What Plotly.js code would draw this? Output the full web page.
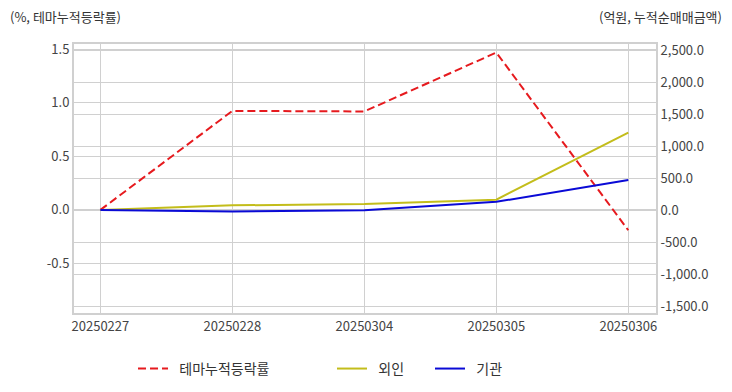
<!DOCTYPE html>
<html>
<head>
<meta charset="utf-8">
<script src="https://cdn.plot.ly/plotly-3.0.1.min.js"></script>
<style>html,body{margin:0;padding:0;background:#fff;}#chart{width:732px;height:392px;}</style>
</head>
<body>
<div id="chart"></div>
<script>
var dates = ['20250227', '20250228', '20250304', '20250305', '20250306'];
var themeReturn = [0, 0.925, 0.92, 1.47, -0.19];
var foreign = [0, 73, 94, 162, 1208];
var institution = [0, -22, -5, 128, 469];

var leftTicks = [-0.5, 0, 0.5, 1.0, 1.5];
var leftTickText = ['-0.5', '0.0', '0.5', '1.0', '1.5'];
var rightTicks = [-1500, -1000, -500, 0, 500, 1000, 1500, 2000, 2500];
var rightTickText = ['-1,500.0', '-1,000.0', '-500.0', '0.0', '500.0', '1,000.0', '1,500.0', '2,000.0', '2,500.0'];
var seriesNames = ['테마누적등락률', '외인', '기관'];

var font = "'Noto Sans CJK KR', 'Noto Sans', sans-serif";
var pad = '\u00a0\u00a0';
var traces = [
  {x: dates, y: themeReturn, name: pad + seriesNames[0], type: 'scatter', mode: 'lines',
   line: {color: '#e61a1e', width: 2, dash: '8px,4px'}, yaxis: 'y', legend: 'legend'},
  {x: dates, y: foreign, name: pad + seriesNames[1], type: 'scatter', mode: 'lines',
   line: {color: '#c3bd1b', width: 2}, yaxis: 'y2', legend: 'legend2'},
  {x: dates, y: institution, name: pad + seriesNames[2], type: 'scatter', mode: 'lines',
   line: {color: '#0a0ad6', width: 2}, yaxis: 'y2', legend: 'legend3'}
];
function leg(x) {
  return {orientation: 'h', x: x, xanchor: 'left', y: -0.208, yanchor: 'middle',
          bgcolor: 'rgba(0,0,0,0)', font: {family: font, size: 14, color: '#333'}};
}
var layout = {
  width: 732, height: 392,
  margin: {l: 74, r: 76, t: 44, b: 79, autoexpand: false},
  paper_bgcolor: '#fff', plot_bgcolor: '#fff',
  font: {family: font, size: 13, color: '#444'},
  showlegend: true,
  legend: leg(0.1014),
  legend2: leg(0.4433),
  legend3: leg(0.6117),
  xaxis: {type: 'category', range: [-0.2, 4.21], showgrid: true, gridcolor: '#d0d0d0',
          showline: true, mirror: true, linecolor: '#d0d0d0', linewidth: 2,
          ticks: '', tickfont: {size: 13, color: '#444'}, zeroline: false, automargin: false},
  yaxis: {range: [-0.963, 1.55], tickvals: leftTicks, ticktext: leftTickText,
          showgrid: true, gridcolor: '#d0d0d0', zeroline: false,
          showline: true, linecolor: '#d0d0d0', linewidth: 2,
          tickfont: {size: 13, color: '#444'}, ticks: '', automargin: false},
  yaxis2: {overlaying: 'y', side: 'right', range: [-1609, 2594], tickvals: rightTicks, ticktext: rightTickText,
           showgrid: true, gridcolor: '#d0d0d0', zeroline: false,
           showline: true, linecolor: '#d0d0d0', linewidth: 2,
           tickfont: {size: 13, color: '#444'}, ticks: '', automargin: false},
  annotations: [
    {text: '(%, 테마누적등락률)', xref: 'paper', yref: 'paper', x: 0, y: 1, xshift: -66, yshift: 28,
     xanchor: 'left', yanchor: 'middle', showarrow: false, font: {family: font, size: 13, color: '#333'}},
    {text: '(억원, 누적순매매금액)', xref: 'paper', yref: 'paper', x: 1, y: 1, xshift: 68, yshift: 28,
     xanchor: 'right', yanchor: 'middle', showarrow: false, font: {family: font, size: 13, color: '#333'}}
  ]
};
Plotly.newPlot('chart', traces, layout, {displayModeBar: false, staticPlot: true});
</script>
</body>
</html>
